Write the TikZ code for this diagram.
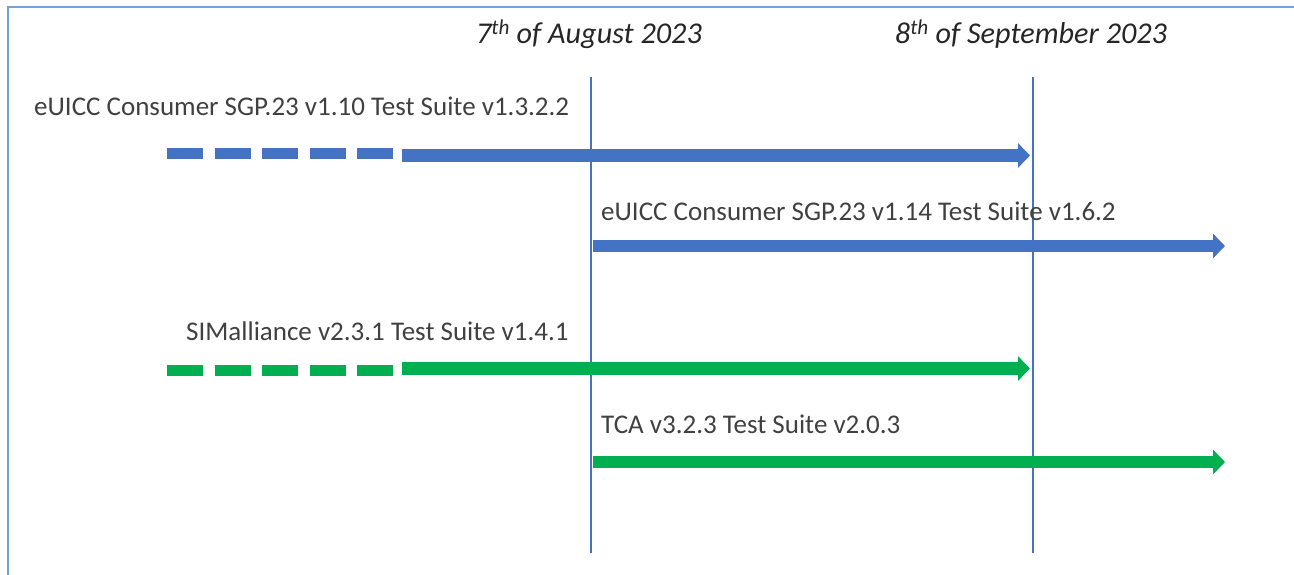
\documentclass[tikz,border=0pt]{standalone}
\usepackage{fontspec}
\setmainfont{Carlito}
\usetikzlibrary{arrows.meta}
\definecolor{tlblue}{HTML}{4472C4}
\definecolor{tlgreen}{HTML}{00B050}
\definecolor{frameblue}{HTML}{6FA3DC}
\definecolor{labelgray}{HTML}{404040}
\definecolor{dategray}{HTML}{262626}
\tikzset{
  lbl/.style={anchor=base west, inner sep=0pt, text=labelgray, font=\fontsize{27}{31}\selectfont},
  datelbl/.style={anchor=base, inner sep=0pt, text=dategray, font=\fontsize{30.2}{34}\selectfont\itshape},
  vline/.style={draw=tlblue, line width=2.5pt},
  bararrow/.style={line width=12.5pt, -{Triangle[width=24pt,length=12pt]}},
  dashbar/.style={line width=11pt, dash pattern=on 36pt off 11.6pt},
}
\begin{document}
\begin{tikzpicture}[x=1pt,y=-1pt]
\useasboundingbox (0,0) rectangle (1294,575);
\begin{scope}
\clip (0,0) rectangle (1294,575);
\draw[frameblue, line width=1.6pt] (8,7) rectangle (1320,600);
\end{scope}

% date markers
\node[datelbl] (d1) at (589,44) {7\textsuperscript{th} of August 2023};
\node[datelbl] (d2) at (1031,44) {8\textsuperscript{th} of September 2023};
\coordinate (v1t) at (591,77);
\coordinate (v1b) at (591,553);
\coordinate (v2t) at (1033,77);
\coordinate (v2b) at (1033,553);
\draw[vline] (v1t) -- (v1b);
\draw[vline] (v2t) -- (v2b);

% row 1
\node[lbl] (l1) at (34,116) {eUICC Consumer SGP.23 v1.10 Test Suite v1.3.2.2};
\coordinate (a1d) at (167,154);
\coordinate (a1s) at (402,155.5);
\coordinate (a1e) at (1030,155.5);
\draw[tlblue, dashbar] (a1d) -- (a1s |- a1d);
\draw[tlblue, bararrow] (a1s) -- (a1e);

% row 2
\node[lbl] (l2) at (601,221) {eUICC Consumer SGP.23 v1.14 Test Suite v1.6.2};
\coordinate (a2s) at (593,246);
\coordinate (a2e) at (1225,246);
\draw[tlblue, bararrow] (a2s) -- (a2e);

% row 3
\node[lbl] (l3) at (186,340) {SIMalliance v2.3.1 Test Suite v1.4.1};
\coordinate (a3d) at (167,370.5);
\coordinate (a3s) at (402,368.5);
\coordinate (a3e) at (1030,368.5);
\draw[tlgreen, dashbar] (a3d) -- (a3s |- a3d);
\draw[tlgreen, bararrow] (a3s) -- (a3e);

% row 4
\node[lbl] (l4) at (601,433) {TCA v3.2.3 Test Suite v2.0.3};
\coordinate (a4s) at (593,462);
\coordinate (a4e) at (1225,462);
\draw[tlgreen, bararrow] (a4s) -- (a4e);
\end{tikzpicture}
\end{document}
